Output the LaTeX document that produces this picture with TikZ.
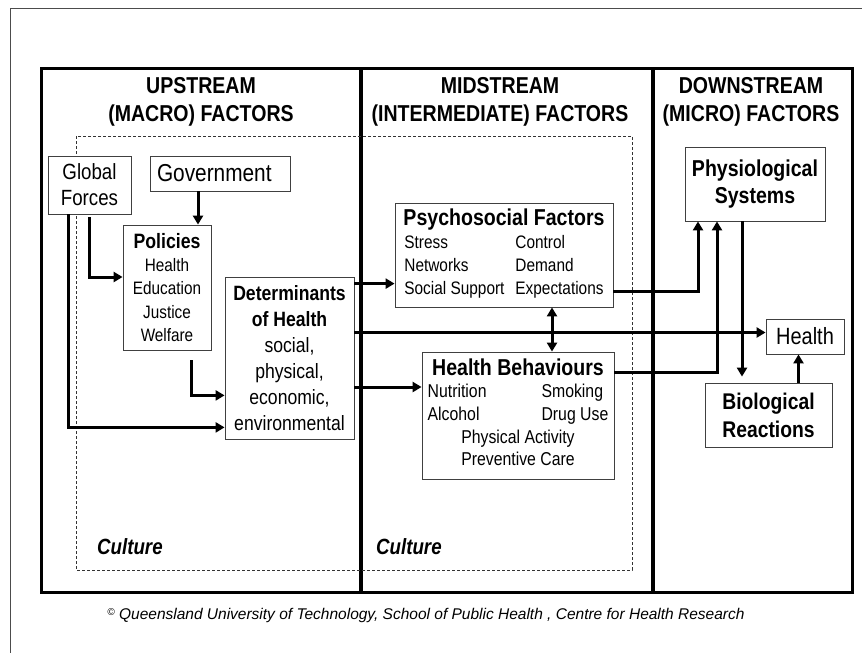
\documentclass[tikz,border=0pt]{standalone}
\usepackage{fontspec}
\setmainfont{Liberation Sans}[FakeStretch=0.85]
\newfontfamily\plainsans{Liberation Sans}
\usetikzlibrary{arrows.meta}

\begin{document}
\begin{tikzpicture}[x=1pt,y=-1pt,
    box/.style={draw=black!75,line width=0.8pt,fill=white,inner sep=0pt,align=center},
    arr/.style={line width=3pt,-{Triangle[length=9pt,width=10pt]}},
    dblarr/.style={line width=3pt,{Triangle[length=9pt,width=10pt]}-{Triangle[length=9pt,width=10pt]}},
    head/.style={font=\bfseries\fontsize{23}{28}\selectfont,align=center,inner sep=0pt}]
\useasboundingbox (0,0) rectangle (862,653);
\draw[black!70,line width=1pt] (10,670) -- (10,8) -- (880,8);
\draw[line width=3pt] (41,68) rectangle (852,592);
\draw[line width=3.5pt] (361,68) -- (361,592);
\draw[line width=3.5pt] (653,68) -- (653,592);
\draw[black!80,line width=0.7pt,dash pattern=on 3pt off 2pt] (76,136) rectangle (632,570);

\node[head] (up) at (201,102) {UPSTREAM\\(MACRO) FACTORS};
\node[head] (mid) at (500,102) {MIDSTREAM\\(INTERMEDIATE) FACTORS};
\node[head] (down) at (751,102) {DOWNSTREAM\\(MICRO) FACTORS};

\node[box,minimum width=83pt,minimum height=58pt,font=\fontsize{22}{26}\selectfont] (glob) at (89.5,185) {Global\\Forces};
\node[box,text width=126pt,inner xsep=7pt,minimum height=35pt,align=left,font=\fontsize{24.5}{28}\selectfont] (gov) at (220,173.5) {Government};
\node[box,minimum width=88pt,minimum height=125pt,font=\fontsize{18}{23.3}\selectfont] (pol) at (167,287.5) {{\bfseries\fontsize{20.8}{25}\selectfont Policies}\\Health\\Education\\Justice\\Welfare};
\node[box,minimum width=129pt,minimum height=162pt,font=\fontsize{20.7}{26}\selectfont] (det) at (289.5,358) {\textbf{Determinants}\\\textbf{of Health}\\social,\\physical,\\economic,\\environmental};
\node[box,minimum width=218pt,minimum height=104pt,font=\fontsize{18.1}{23}\selectfont] (psy) at (504,255) {{\bfseries\fontsize{23}{24}\selectfont Psychosocial Factors}\\\begin{tabular}[t]{@{}l@{\hspace{11pt}}l@{}}Stress & Control\\Networks & Demand\\Social Support & Expectations\end{tabular}};
\node[box,minimum width=192pt,minimum height=127pt,font=\fontsize{18.6}{22.7}\selectfont] (hb) at (518,415.5) {{\bfseries\fontsize{23}{24}\selectfont Health Behaviours}\\\begin{tabular}[t]{@{}l@{\hspace{55pt}}l@{}}Nutrition & Smoking\\Alcohol & Drug Use\\\multicolumn{2}{c}{Physical Activity}\\\multicolumn{2}{c}{Preventive Care}\end{tabular}};
\node[box,minimum width=140pt,minimum height=74pt,font=\bfseries\fontsize{23}{27}\selectfont] (phys) at (755,184) {Physiological\\Systems};
\node[box,minimum width=78pt,minimum height=35pt,font=\fontsize{23.5}{28}\selectfont] (hlth) at (805,336.5) {Health};
\node[box,minimum width=127pt,minimum height=64pt,font=\bfseries\fontsize{22.7}{28}\selectfont] (bio) at (768.5,415) {Biological\\Reactions};

\node[anchor=west,inner sep=0pt,font=\bfseries\itshape\fontsize{22}{26}\selectfont] (cult1) at (97,547) {Culture};
\node[anchor=west,inner sep=0pt,font=\bfseries\itshape\fontsize{22}{26}\selectfont] (cult2) at (376,547) {Culture};
\node[font=\plainsans\itshape\fontsize{15.5}{18}\selectfont] (copy) at (426,615) {\raisebox{0.45ex}{\fontsize{10}{10}\selectfont\textcopyright}\ Queensland University of Technology, School of Public Health , Centre for Health Research};

\draw[arr] ([xshift=-22pt]gov.south) -- ([xshift=-22pt]gov.south |- pol.north);
\draw[arr] ([yshift=-3pt]glob.south) |- ([yshift=10.5pt]pol.west);
\draw[arr] ([xshift=-21pt]glob.south) |- ([yshift=12pt]det.south west);
\draw[arr] ([xshift=24pt,yshift=-10pt]pol.south) |- ([yshift=44pt]det.south west);
\draw[arr] ([yshift=-7pt]det.north east) -- ([yshift=-7pt]det.north east -| psy.west);
\draw[arr] ([yshift=4pt]hlth.west -| det.east) -- ([yshift=4pt]hlth.west);
\draw[arr] ([yshift=-29pt]det.east) -- ([yshift=-29pt]det.east -| hb.west);
\draw[dblarr] ([xshift=48pt]psy.south) -- ([xshift=48pt]psy.south |- hb.north);
\draw[arr] ([yshift=-36pt]psy.east) -| ([xshift=-57pt]phys.south);
\draw[arr] ([yshift=-21pt]hb.north east) -| ([xshift=-38pt]phys.south);
\draw[arr,shorten >=6pt] ([xshift=-13pt]phys.south) -- ([xshift=-13pt]phys.south |- bio.north);
\draw[arr] ([xshift=30pt]bio.north) -- ([xshift=30pt]bio.north |- hlth.south);
\end{tikzpicture}
\end{document}
